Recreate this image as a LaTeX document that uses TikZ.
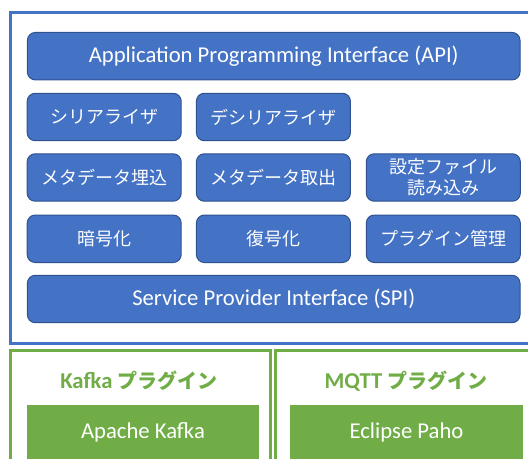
\documentclass[tikz,border=0pt]{standalone}
\usepackage{fontspec}
\setmainfont{Carlito}
\newfontfamily\jp{Noto Sans CJK JP}
\definecolor{oblue}{HTML}{4472C4}
\definecolor{oblueb}{HTML}{2F528F}
\definecolor{ogreen}{HTML}{70AD47}
\tikzset{
  bbox/.style={draw=oblueb, line width=0.75pt, fill=oblue, rounded corners=6pt, text=white, minimum height=35.6pt, inner sep=0pt, align=center, font=\fontsize{13.5}{15}\selectfont},
  lat/.style={font=\fontsize{17}{19}\selectfont},
  gbox/.style={draw=none, fill=ogreen, text=white, inner sep=0pt, font=\fontsize{17}{19}\selectfont},
  glabel/.style={text=ogreen, font=\fontsize{17}{19}\selectfont\bfseries},
  frame/.style={line width=2.25pt}
}
\begin{document}
\begin{tikzpicture}[x=0.75pt,y=-0.75pt]
\useasboundingbox (0,0) rectangle (528,459);
% outer frames
\draw[frame, draw=oblue] (540,12.5) -- (10.5,12.5) -- (10.5,343.5) -- (540,343.5);
\draw[frame, draw=ogreen] (10.5,470) -- (10.5,350.5) -- (270.5,350.5) -- (270.5,470);
\draw[frame, draw=ogreen] (275.5,470) -- (275.5,350.5) -- (540,350.5);
% blue boxes
\node[bbox, lat, minimum width=369.5pt] (api) at (273.7,56.2) {Application Programming Interface (API)};
\node[bbox, minimum width=115.5pt] (ser) at (104.2,117) {\jp シリアライザ};
\node[bbox, minimum width=115.5pt] (deser) at (273.4,117) {\jp デシリアライザ};
\node[bbox, minimum width=115.5pt] (metain) at (104.2,177.5) {\jp メタデータ埋込};
\node[bbox, minimum width=115.5pt] (metaout) at (273.4,177.5) {\jp メタデータ取出};
\node[bbox, minimum width=115.5pt, font=\fontsize{13.5}{16}\selectfont] (conf) at (443.3,177.5) {\jp 設定ファイル\\\jp 読み込み};
\node[bbox, minimum width=115.5pt] (enc) at (104.2,238.8) {\jp 暗号化};
\node[bbox, minimum width=115.5pt] (dec) at (273.4,238.8) {\jp 復号化};
\node[bbox, minimum width=115.5pt] (plug) at (443.3,238.8) {\jp プラグイン管理};
\node[bbox, lat, minimum width=369.5pt] (spi) at (273.7,299) {Service Provider Interface (SPI)};
% green
\node[glabel] (kl) at (139,381) {Kafka {\jp\bfseries\fontsize{15}{17}\selectfont プラグイン}};
\node[glabel] (ml) at (406,381) {MQTT {\jp\bfseries\fontsize{15}{17}\selectfont プラグイン}};
\node[gbox, minimum width=174pt, minimum height=40.5pt] (kafka) at (143,432) {Apache Kafka};
\node[gbox, minimum width=174.75pt, minimum height=40.5pt] (paho) at (406.5,432) {Eclipse Paho};
\end{tikzpicture}
\end{document}
